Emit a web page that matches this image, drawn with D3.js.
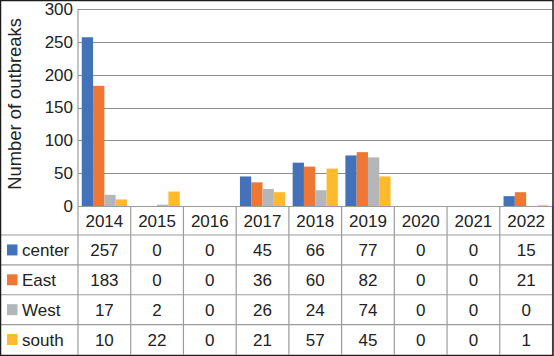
<!DOCTYPE html>
<html><head><meta charset="utf-8">
<script src="https://cdn.jsdelivr.net/npm/d3@7"></script>
<style>html,body{margin:0;padding:0;background:#fff;}svg{display:block;font-family:"Liberation Sans",Arial,Helvetica,sans-serif;}</style>
</head><body>
<svg id="c" width="554" height="356"></svg>
<script>
const years = ["2014","2015","2016","2017","2018","2019","2020","2021","2022"];
const seriesNames = ["center","East","West","south"];
const center = [257,0,0,45,66,77,0,0,15];
const east = [183,0,0,36,60,82,0,0,21];
const west = [17,2,0,26,24,74,0,0,0];
const south = [10,22,0,21,57,45,0,0,1];
const colors = ["#4472B8","#EE7734","#B5B6B8","#FDBA2C"];
const yTicks = [0,50,100,150,200,250,300];
const values = [center, east, west, south];

const svg = d3.select("#c");
const L = 78, R = 552.5, T = 9, B = 206;
const headerBottom = 235, tableBottom = 354.5;
const rowH = (tableBottom - headerBottom) / 4;

const x = d3.scaleBand().domain(years).range([L, R]).paddingInner(0).paddingOuter(0);
const xi = d3.scaleBand().domain(seriesNames).range([0, x.bandwidth()]).paddingOuter(0.333).paddingInner(0);
const y = d3.scaleLinear().domain([0, 300]).range([B, T]);

// gridlines
svg.append("g").selectAll("line").data(yTicks).join("line")
  .attr("x1", L).attr("x2", R).attr("y1", d => Math.round(y(d)) + 0.5).attr("y2", d => Math.round(y(d)) + 0.5)
  .attr("stroke", "#8f8f8f").attr("stroke-width", 1);

// y axis labels
const yAxis = d3.axisLeft(y).tickValues(yTicks).tickSize(0).tickPadding(5);
const ya = svg.append("g").attr("transform", `translate(${L},0)`).call(yAxis);
ya.select(".domain").remove();
ya.selectAll("text").attr("font-size", 17).attr("fill", "#222").attr("font-family", '"Liberation Sans",Arial,sans-serif');

// bars
const g = svg.append("g");
seriesNames.forEach((s, si) => {
  g.selectAll(null).data(years).join("rect")
    .attr("x", d => x(d) + xi(s))
    .attr("width", xi.bandwidth())
    .attr("y", (d, i) => y(values[si][i]))
    .attr("height", (d, i) => B - y(values[si][i]))
    .attr("fill", colors[si]);
});

// y label
svg.append("text").attr("transform", `translate(20.5,104) rotate(-90)`)
  .attr("text-anchor", "middle").attr("font-size", 18.4).attr("fill", "#222").text("Number of outbreaks");

// table lines
const tl = svg.append("g").attr("stroke", "#9c9c9c").attr("stroke-width", 1.2);
const colEdges = years.map(d => x(d)).concat([R]);
colEdges.forEach(cx => {
  tl.append("line").attr("x1", cx).attr("x2", cx).attr("y1", cx === L ? T : B).attr("y2", tableBottom);
});
tl.append("line").attr("x1", L).attr("x2", R).attr("y1", B + 0.5).attr("y2", B + 0.5);
for (let r = 0; r < 4; r++) {
  const yy = headerBottom + r * rowH;
  tl.append("line").attr("x1", 0).attr("x2", R).attr("y1", yy).attr("y2", yy);
}

// header labels
svg.append("g").selectAll("text").data(years).join("text")
  .attr("x", d => x(d) + x.bandwidth() / 2).attr("y", (B + headerBottom) / 2 + 6)
  .attr("text-anchor", "middle").attr("font-size", 17).attr("fill", "#222").text(d => d);

// rows
seriesNames.forEach((s, si) => {
  const cy = headerBottom + si * rowH + rowH / 2;
  svg.append("rect").attr("x", 7).attr("y", cy - 5.5).attr("width", 10.5).attr("height", 11).attr("fill", colors[si]);
  svg.append("text").attr("x", 22).attr("y", cy + 6).attr("font-size", 17).attr("fill", "#222").text(s);
  svg.append("g").selectAll("text").data(years).join("text")
    .attr("x", d => x(d) + x.bandwidth() / 2).attr("y", cy + 6)
    .attr("text-anchor", "middle").attr("font-size", 17).attr("fill", "#222")
    .text((d, i) => values[si][i]);
});

// outer border
svg.append("rect").attr("x", 0.5).attr("y", 0.5).attr("width", 552.5).attr("height", 355)
  .attr("fill", "none").attr("stroke", "#1c1c1c").attr("stroke-width", 1.5);
</script>
</body></html>
